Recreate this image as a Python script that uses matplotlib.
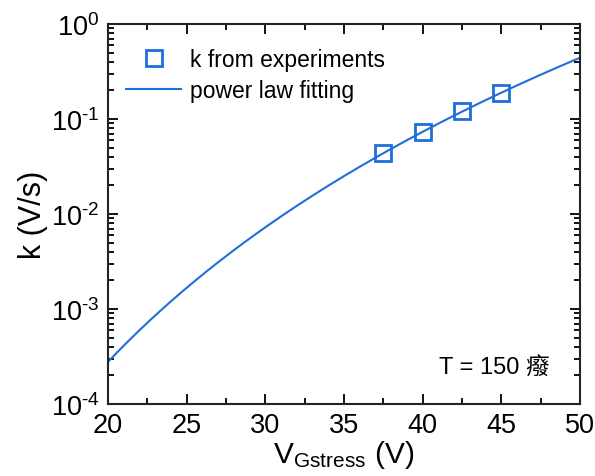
import numpy as np
import matplotlib
matplotlib.use("Agg")
import matplotlib.pyplot as plt
from matplotlib.ticker import LogLocator, MultipleLocator, NullFormatter, FuncFormatter

plt.rcParams['font.family'] = ['Liberation Sans', 'Noto Sans CJK SC', 'DejaVu Sans']
plt.rcParams['mathtext.fontset'] = 'custom'
plt.rcParams['mathtext.rm'] = 'Liberation Sans'
plt.rcParams['mathtext.it'] = 'Liberation Sans'
plt.rcParams['mathtext.bf'] = 'Liberation Sans'

# Experimental data
v_exp = [37.5, 40.0, 42.5, 45.0]
k_exp = [0.0439, 0.0724, 0.1205, 0.189]
x_range = [20, 50]
label_exp = "k from experiments"
label_fit = "power law fitting"
annot = "T = 150 癈"

color = '#1E6FDB'

fig = plt.figure(figsize=(5.95, 4.77), dpi=100)
ax = fig.add_axes([108/595, 1-405/477, (580-108)/595, (405-25)/477])

# power law fit derived from the experimental points
p = np.polyfit(np.log(v_exp), np.log(k_exp), 1)
v_fit = np.linspace(x_range[0], x_range[1], 300)
k_fit = np.exp(np.polyval(p, np.log(v_fit)))

ax.plot(v_exp, k_exp, linestyle='none', marker='s', markersize=11,
        markerfacecolor='none', markeredgecolor=color, markeredgewidth=2,
        label=label_exp, zorder=3)
ax.plot(v_fit, k_fit, color=color, lw=1.5, label=label_fit)

ax.set_yscale('log')
ax.set_xlim(20, 50)
ax.set_ylim(1e-4, 1)
ax.xaxis.set_major_locator(MultipleLocator(5))
ax.xaxis.set_minor_locator(MultipleLocator(2.5))
ax.yaxis.set_major_locator(LogLocator(base=10, numticks=10))
ax.yaxis.set_minor_locator(LogLocator(base=10, subs=np.arange(2, 10), numticks=10))
ax.yaxis.set_minor_formatter(NullFormatter())

def logfmt(y, pos):
    e = int(round(np.log10(y)))
    return r'10$^{\text{%d}}$' % e

ax.yaxis.set_major_formatter(FuncFormatter(logfmt))

ax.tick_params(which='both', direction='in', top=True, right=True, width=1.3, labelsize=19.5, colors='black')
ax.tick_params(which='major', length=7, pad=6)
ax.tick_params(which='minor', length=4)
for s in ax.spines.values():
    s.set_linewidth(1.5)
    s.set_color('#222222')

ax.set_xlabel(r'V$_{\mathregular{Gstress}}$ (V)', fontsize=21.5, labelpad=0)
ax.set_ylabel('k (V/s)', fontsize=22, labelpad=2)

leg = ax.legend(loc='upper left', frameon=False, fontsize=16.5, handlelength=2.4,
                handletextpad=0.4, borderaxespad=0.4, labelspacing=0.35,
                bbox_to_anchor=(0.0, 0.985))

ax.text(0.935, 0.095, annot, transform=ax.transAxes, fontsize=17,
        ha='right', va='center')

fig.savefig('out.png', dpi=100)
